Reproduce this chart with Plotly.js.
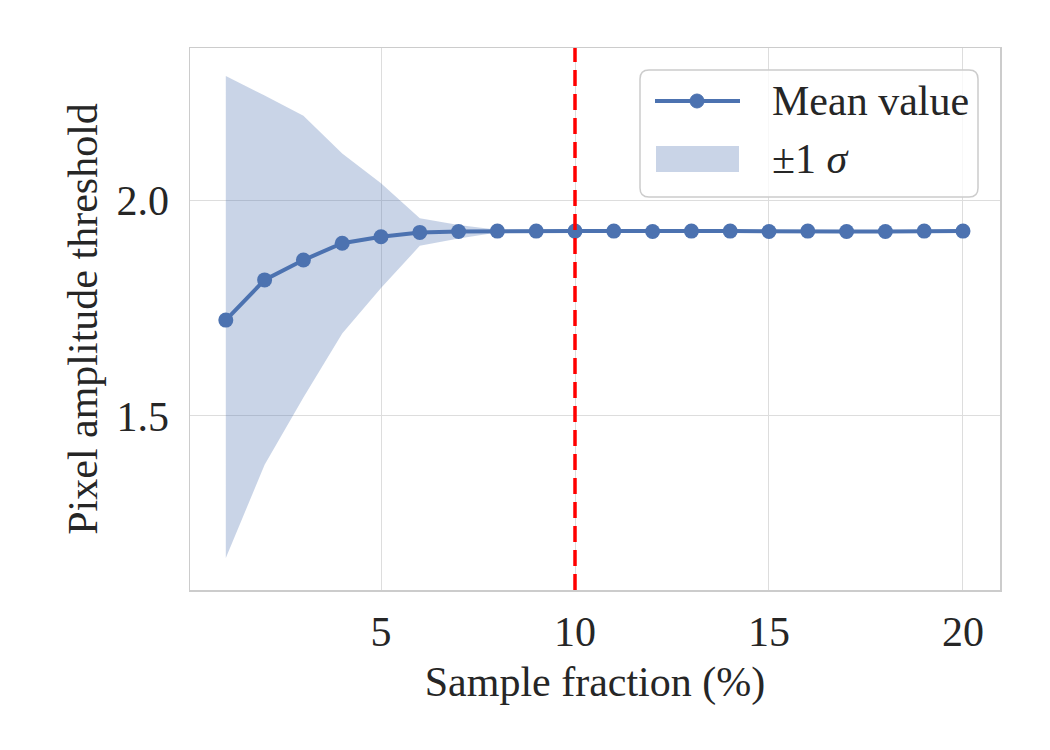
<!DOCTYPE html>
<html>
<head>
<meta charset="utf-8">
<script src="https://cdn.plot.ly/plotly-3.0.1.min.js"></script>
<style>
  html, body { margin: 0; padding: 0; background: #ffffff; }
  #chart { width: 1050px; height: 750px; }
</style>
</head>
<body>
<div id="chart"></div>
<script>
// Sample fraction (%) and the resulting pixel amplitude threshold statistics
const sampleFraction = [1, 2, 3, 4, 5, 6, 7, 8, 9, 10, 11, 12, 13, 14, 15, 16, 17, 18, 19, 20];
const meanValue = [1.722, 1.815, 1.861, 1.900, 1.915, 1.925, 1.927, 1.928, 1.928, 1.928,
                   1.928, 1.927, 1.928, 1.928, 1.927, 1.928, 1.927, 1.927, 1.928, 1.928];
const upperBand = [2.287, 2.242, 2.195, 2.108, 2.039, 1.958, 1.942, 1.931, 1.929, 1.929,
                   1.929, 1.928, 1.929, 1.929, 1.928, 1.929, 1.928, 1.928, 1.929, 1.929];
const lowerBand = [1.171, 1.387, 1.543, 1.691, 1.796, 1.894, 1.911, 1.925, 1.927, 1.927,
                   1.927, 1.926, 1.927, 1.927, 1.926, 1.927, 1.926, 1.926, 1.927, 1.927];
const chosenFraction = 10;
const xTicks = [5, 10, 15, 20];
const yTicks = [1.5, 2.0];
const yTickText = ['1.5', '2.0'];
const legendLabels = ['Mean value', '±1 <i>σ</i>'];

const blue = '#4C72B0';
const bandFill = 'rgba(76,114,176,0.3)';
const textColor = '#262626';
const serif = 'Liberation Serif, Times New Roman, serif';
const fontSize = 42;

// Plot area geometry in pixels (used to place the hand-drawn legend box)
const W = 1050, H = 750;
const M = {l: 190, r: 50, t: 48, b: 160};
const plotW = W - M.l - M.r, plotH = H - M.t - M.b;
const px = v => (v - M.l) / plotW;
const py = v => (H - M.b - v) / plotH;

// Rounded legend frame in paper coordinates
function roundedRect(x0, y0, x1, y1, r) {
  const rx = r / plotW, ry = r / plotH;
  const L = px(x0), R = px(x1), T = py(y0), B = py(y1);
  return `M${L + rx},${T} L${R - rx},${T} Q${R},${T} ${R},${T - ry} ` +
         `L${R},${B + ry} Q${R},${B} ${R - rx},${B} L${L + rx},${B} ` +
         `Q${L},${B} ${L},${B + ry} L${L},${T - ry} Q${L},${T} ${L + rx},${T} Z`;
}

const traces = [
  {
    x: sampleFraction, y: lowerBand,
    mode: 'lines', line: {width: 0, color: bandFill},
    showlegend: false, hoverinfo: 'skip'
  },
  {
    x: sampleFraction, y: upperBand,
    mode: 'lines', line: {width: 0, color: bandFill},
    fill: 'tonexty', fillcolor: bandFill,
    showlegend: false, hoverinfo: 'skip'
  },
  {
    x: sampleFraction, y: meanValue,
    mode: 'lines+markers',
    line: {color: blue, width: 4},
    marker: {color: blue, size: 15},
    showlegend: false
  }
];

const legendRowY = [101, 159];
const shapes = [
  {
    type: 'line', xref: 'x', yref: 'paper',
    x0: chosenFraction, x1: chosenFraction, y0: 0, y1: 1,
    line: {color: '#ff0000', width: 3.5, dash: '16px,8px'},
    layer: 'above'
  },
  {
    type: 'path', xref: 'paper', yref: 'paper', layer: 'above',
    path: roundedRect(640, 70, 978, 197, 9),
    fillcolor: 'rgba(255,255,255,0.8)',
    line: {color: '#cccccc', width: 1.5}
  },
  {
    type: 'line', xref: 'paper', yref: 'paper', layer: 'above',
    x0: px(655), x1: px(740), y0: py(legendRowY[0]), y1: py(legendRowY[0]),
    line: {color: blue, width: 4}
  },
  {
    type: 'circle', xref: 'paper', yref: 'paper', layer: 'above',
    x0: px(690), x1: px(704), y0: py(legendRowY[0] - 7), y1: py(legendRowY[0] + 7),
    fillcolor: blue, line: {color: blue, width: 1}
  },
  {
    type: 'rect', xref: 'paper', yref: 'paper', layer: 'above',
    x0: px(656), x1: px(739), y0: py(146), y1: py(172),
    fillcolor: bandFill, line: {width: 0}
  }
];

const annotations = legendLabels.map((label, i) => ({
  xref: 'paper', yref: 'paper',
  x: px(770), y: py(legendRowY[i]),
  xanchor: 'left', yanchor: 'middle',
  text: label, showarrow: false,
  font: {family: serif, size: fontSize, color: textColor}
}));

const layout = {
  width: W, height: H,
  paper_bgcolor: '#ffffff', plot_bgcolor: '#ffffff',
  margin: M,
  font: {family: serif, size: fontSize, color: textColor},
  showlegend: false,
  xaxis: {
    range: [0.077, 20.954],
    tickvals: xTicks, ticktext: xTicks.map(String),
    showgrid: true, gridcolor: '#dddddd', gridwidth: 1,
    zeroline: false, showline: true, mirror: true, linecolor: '#cccccc', linewidth: 1.5,
    ticks: '', ticklabelstandoff: 4,
    tickfont: {family: serif, size: fontSize, color: textColor},
    title: {text: 'Sample fraction (%)', font: {family: serif, size: fontSize, color: textColor}, standoff: 12}
  },
  yaxis: {
    range: [1.097, 2.352],
    tickvals: yTicks, ticktext: yTickText,
    showgrid: true, gridcolor: '#dddddd', gridwidth: 1,
    zeroline: false, showline: true, mirror: true, linecolor: '#cccccc', linewidth: 1.5,
    ticks: '', ticklabelstandoff: 11,
    tickfont: {family: serif, size: fontSize, color: textColor},
    title: {text: 'Pixel amplitude threshold', font: {family: serif, size: fontSize, color: textColor}, standoff: 6}
  },
  shapes: shapes,
  annotations: annotations
};

Plotly.newPlot('chart', traces, layout, {displayModeBar: false, staticPlot: true});
</script>
</body>
</html>
